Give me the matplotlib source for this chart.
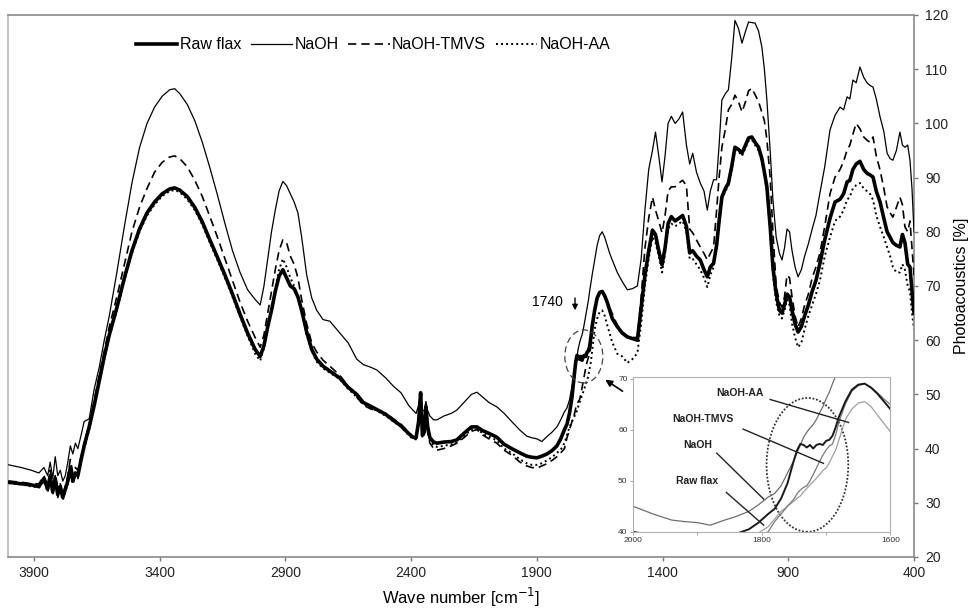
import numpy as np
import matplotlib
matplotlib.use("Agg")
import matplotlib.pyplot as plt
from matplotlib.patches import Ellipse

plt.rcParams['font.family'] = ['Liberation Sans', 'DejaVu Sans']

# wave numbers [cm-1] (segments: noisy start, OH band,
# CH band, CO2 region, carbonyl region, fingerprint region)
wn = [4000, 3950, 3910, 3880, 3860, 3845, 3835, 3825, 3815, 3805,
      3795, 3785, 3775, 3765, 3755, 3745, 3735, 3725, 3712, 3700,
      3680, 3660, 3640, 3620, 3600, 3570, 3540, 3510, 3480, 3450,
      3420, 3390, 3360, 3340, 3320, 3290, 3260, 3230, 3200, 3170,
      3140, 3110, 3080, 3050, 3020, 3000,
      2985, 2970, 2955, 2940, 2925, 2910, 2895, 2880, 2865, 2850,
      2835, 2815, 2795, 2775, 2750, 2723,
      2683, 2650, 2616, 2590, 2560, 2536, 2500, 2470, 2440, 2410,
      2393, 2380, 2370, 2362, 2355, 2348, 2341, 2334, 2325, 2310,
      2297, 2270, 2240, 2218, 2190, 2160, 2138, 2115, 2090, 2059,
      2030, 2000,
      1967, 1940, 1920, 1900, 1880, 1860, 1840, 1820, 1805, 1790,
      1780, 1770, 1760, 1750, 1745, 1740, 1735, 1730, 1725, 1720,
      1715, 1710, 1705, 1700, 1695, 1690, 1685, 1680, 1670, 1660,
      1650, 1640, 1630, 1620, 1610, 1600,
      1580, 1560, 1540, 1520, 1500, 1485, 1470, 1455, 1440, 1428,
      1415, 1402, 1390, 1378, 1365, 1350, 1335, 1320, 1305, 1292,
      1280, 1265, 1250, 1235, 1222, 1210, 1197, 1185, 1175, 1164,
      1150, 1138, 1125, 1112, 1098, 1084, 1070, 1058, 1045, 1032,
      1018, 1005, 995, 985, 972, 961, 948, 935, 925, 915,
      905, 895, 885, 873, 861, 848, 835, 820, 805, 790,
      774, 755, 734, 714, 694, 680, 666, 655, 643, 630,
      615, 600, 587, 575, 563, 550, 535, 520, 507, 495,
      484, 470, 456, 446, 436, 425, 416, 408, 400]

raw_flax = [33.8, 33.5, 33.3, 33.0, 34.5, 32.5, 35.0, 32.0, 34.5, 31.5,
            33.0, 31.0, 32.5, 34.0, 36.5, 34.0, 35.5, 35.0, 38.0, 40.5,
            44.0, 48.0, 52.5, 57.0, 61.0, 66.0, 71.5, 76.5, 80.5, 83.5,
            85.5, 87.0, 87.9, 88.1, 87.7, 86.5, 84.5, 81.8, 78.5, 75.3,
            72.0, 68.5, 64.8, 61.3, 58.3, 57.0,
            59.0, 62.5, 65.5, 69.0, 71.8, 73.0, 71.5, 70.0, 69.5, 68.0,
            65.5, 61.5, 58.3, 56.5, 55.2, 54.3,
            53.0, 51.3, 50.0, 48.5, 47.8, 47.2, 46.3, 45.2, 44.2, 42.8,
            42.1, 42.0, 45.0, 50.3, 42.5, 43.0, 47.7, 44.0, 42.0, 41.2,
            41.0, 41.2, 41.3, 41.6, 42.8, 44.0, 44.0, 43.3, 42.8, 42.1,
            40.8, 40.0,
            39.2, 38.6, 38.4, 38.3, 38.6, 39.0, 39.6, 40.5, 41.8, 43.5,
            44.5, 46.5, 49.5, 54.0, 56.0, 57.2, 57.0, 56.5, 57.0, 56.3,
            57.0, 57.2, 57.0, 57.8, 58.0, 58.8, 60.5, 62.5, 65.5, 67.8,
            68.8, 69.0, 68.2, 67.0, 65.5, 64.0,
            62.5, 61.3, 60.6, 60.3, 60.0, 66.0, 72.0, 76.5, 80.3, 79.5,
            76.5, 73.9, 77.0, 81.5, 82.8, 82.0, 82.5, 83.0, 81.0, 76.1,
            76.5, 75.5, 74.8, 73.0, 71.7, 73.5, 74.2, 77.5, 82.0, 86.4,
            88.0, 89.0, 92.0, 95.6, 95.2, 94.5, 96.0, 97.3, 97.5, 96.5,
            95.6, 93.5, 91.0, 88.3, 81.0, 73.5, 68.5, 65.5, 65.0, 66.5,
            68.5, 68.0, 65.5, 63.0, 61.5, 62.5, 64.5, 66.5, 69.0, 71.0,
            74.2, 78.5, 82.5, 85.5, 86.0, 87.0, 89.2, 89.5, 91.5, 92.5,
            93.0, 91.5, 90.8, 90.5, 90.1, 87.5, 85.5, 82.5, 80.0, 79.0,
            78.0, 77.5, 77.2, 79.5, 78.0, 74.0, 73.5, 69.0, 65.0]

naoh = [37.0, 36.5, 36.0, 35.5, 36.5, 35.0, 37.5, 34.5, 38.5, 35.0,
        36.0, 34.0, 35.0, 37.5, 40.5, 39.0, 41.0, 40.0, 42.5, 45.0,
        45.5, 51.0, 55.0, 60.0, 64.5, 72.5, 81.0, 89.0, 95.5, 100.0,
        103.0, 105.0, 106.2, 106.4, 105.5, 103.5, 100.5, 96.5, 91.8, 86.8,
        81.5, 76.5, 72.5, 69.3, 67.5, 66.5,
        70.0, 75.0, 80.0, 84.0, 87.5, 89.3, 88.5, 87.0, 85.5, 83.5,
        79.0, 72.0, 67.8, 65.5, 63.8, 63.5,
        61.3, 59.5, 56.5, 55.5, 55.0, 54.5, 53.0, 51.5, 50.3, 48.0,
        47.1, 46.5, 48.0, 50.3, 47.0, 47.0, 48.7, 47.0, 46.0, 45.3,
        45.3, 46.0, 46.5, 47.1, 48.5, 50.0, 50.4, 49.5, 48.5, 47.7,
        46.5, 45.0,
        43.4, 42.3, 42.0, 41.8, 41.3, 42.2, 43.0, 44.0, 45.3, 46.8,
        47.5, 49.0, 51.5, 54.0, 55.5, 57.0, 58.5, 59.5, 60.3, 61.0,
        62.0, 63.3, 64.5, 66.0, 67.3, 69.0, 70.5, 72.0, 74.8, 77.5,
        79.3, 80.0, 79.0, 77.5, 76.0, 74.8,
        72.5, 70.8, 69.3, 69.5, 70.0, 75.0, 84.0, 91.5, 95.0, 98.4,
        94.0, 89.2, 94.0, 100.0, 101.3, 100.0, 100.8, 102.1, 96.0, 92.5,
        94.5, 91.0, 89.0, 87.5, 84.0, 87.5, 89.6, 89.6, 96.0, 104.3,
        105.5, 106.2, 112.0, 119.0, 117.5, 114.8, 117.0, 118.7, 118.6, 118.5,
        117.0, 114.1, 110.0, 104.3, 95.0, 85.9, 79.0, 76.0, 74.8, 77.0,
        80.5, 80.0, 76.5, 73.5, 71.7, 73.0, 75.5, 77.8, 80.5, 83.0,
        87.2, 92.0, 98.8, 101.5, 103.0, 102.5, 104.9, 104.5, 108.0, 107.5,
        110.4, 108.5, 107.5, 107.0, 106.7, 104.5, 101.2, 98.5, 94.5, 93.5,
        93.2, 95.0, 98.4, 96.0, 95.6, 96.0, 93.2, 88.0, 80.0]

naoh_tmvs = [34.0, 33.8, 33.5, 33.5, 35.0, 33.0, 36.0, 32.5, 35.0, 32.5,
             33.5, 31.5, 33.0, 35.0, 38.0, 35.5, 36.5, 36.0, 38.5, 41.0,
             44.5, 49.0, 53.5, 58.0, 62.5, 68.0, 74.0, 80.0, 84.5, 88.0,
             91.0, 92.8, 93.8, 94.0, 93.5, 92.0, 89.5, 86.5, 82.8, 79.0,
             75.0, 71.0, 67.0, 63.5, 60.5, 58.7,
             61.0, 65.0, 69.0, 73.0, 76.5, 78.5, 78.0, 75.5, 74.0, 71.5,
             67.5, 63.0, 59.5, 57.8, 56.3, 55.2,
             53.5, 51.5, 49.5, 48.0, 47.3, 47.0, 46.5, 45.5, 44.5, 43.0,
             42.3, 42.0, 44.5, 49.5, 42.0, 42.5, 47.0, 43.0, 41.0, 40.0,
             39.7, 40.0, 40.5, 41.0, 42.0, 43.2, 43.5, 42.5, 41.8, 41.0,
             39.7, 38.8,
             37.5, 36.8, 36.5, 36.4, 36.8, 37.2, 37.8, 38.5, 39.2, 40.0,
             42.0, 43.5, 45.0, 46.4, 47.5, 48.2, 48.7, 49.0, 50.0, 51.2,
             52.5, 53.8, 55.0, 56.0, 56.8, 57.2, 59.0, 61.5, 65.0, 67.5,
             68.6, 69.0, 68.3, 67.2, 66.0, 64.9,
             62.8, 61.5, 60.8, 60.5, 60.5, 68.0, 77.0, 82.5, 86.4, 84.0,
             82.0, 79.8, 83.0, 87.5, 88.3, 88.3, 89.0, 89.5, 88.5, 80.5,
             79.8, 78.5, 77.2, 76.0, 74.8, 76.0, 77.2, 84.0, 90.0, 95.6,
             99.0, 102.5, 103.5, 105.2, 104.0, 102.1, 104.0, 106.0, 106.5, 105.3,
             104.0, 102.0, 100.5, 97.0, 90.0, 80.0, 70.0, 67.0, 66.1, 68.0,
             72.0, 71.5, 68.0, 64.5, 62.4, 64.0, 66.5, 68.5, 71.5, 73.5,
             76.1, 81.0, 87.0, 90.1, 91.5, 93.0, 95.1, 96.0, 98.0, 100.0,
             99.0, 97.5, 96.9, 96.5, 97.5, 94.0, 91.4, 88.0, 84.6, 83.5,
             82.7, 84.5, 86.4, 85.0, 80.9, 80.0, 82.0, 77.0, 72.0]

naoh_aa = [33.6, 33.4, 33.0, 32.8, 34.0, 32.0, 34.5, 31.5, 35.0, 31.0,
           32.5, 30.5, 32.0, 33.5, 35.5, 33.5, 35.0, 34.5, 37.5, 40.0,
           43.5, 47.5, 52.0, 56.5, 60.5, 65.5, 71.0, 76.0, 80.0, 83.0,
           85.0, 86.6, 87.5, 87.7, 87.3, 86.0, 84.0, 81.3, 78.0, 74.8,
           71.5, 68.0, 64.3, 60.8, 57.5, 56.2,
           58.5, 62.0, 65.5, 69.5, 73.0, 75.0, 73.5, 71.5, 70.0, 68.0,
           65.0, 61.0, 58.0, 56.0, 54.8, 54.0,
           52.8, 51.0, 49.5, 48.2, 47.5, 47.0, 46.0, 45.0, 44.0, 42.5,
           41.8, 41.7, 44.5, 49.8, 42.0, 42.6, 47.2, 43.5, 41.5, 40.6,
           40.3, 40.5, 40.8, 41.2, 42.3, 43.5, 43.6, 42.8, 42.2, 41.5,
           40.0, 39.2,
           38.0, 37.3, 37.0, 37.0, 37.3, 37.8, 38.4, 39.2, 39.8, 41.0,
           42.5, 44.0, 45.0, 46.0, 46.6, 47.0, 47.8, 48.5, 49.2, 49.8,
           50.5, 51.2, 52.0, 52.5, 53.5, 54.8, 56.0, 58.0, 62.0, 64.0,
           65.2, 65.5, 64.5, 62.8, 61.2, 59.6,
           57.5, 57.0, 55.8, 56.5, 57.6, 63.0, 70.0, 75.0, 79.0, 78.0,
           75.5, 72.5, 76.0, 80.5, 81.5, 81.0, 81.5, 82.0, 80.0, 75.0,
           75.0, 74.0, 73.0, 71.5, 69.8, 72.0, 73.5, 77.0, 81.5, 86.0,
           87.5, 88.5, 91.5, 95.0, 94.8, 94.0, 95.5, 96.8, 97.0, 96.0,
           95.0, 93.0, 90.5, 87.5, 80.0, 72.0, 67.0, 64.5, 64.0, 65.5,
           67.5, 66.5, 63.0, 60.5, 58.7, 59.5, 62.0, 64.5, 66.5, 68.5,
           71.0, 75.5, 79.0, 82.0, 82.8, 84.0, 85.9, 86.5, 88.0, 88.6,
           89.0, 88.0, 87.5, 87.0, 85.9, 83.0, 80.9, 79.0, 77.2, 75.5,
           73.5, 72.5, 72.5, 74.0, 73.0, 70.0, 69.0, 65.0, 62.0]

xticks = [3900, 3400, 2900, 2400, 1900, 1400, 900, 400]
yticks = [20, 30, 40, 50, 60, 70, 80, 90, 100, 110, 120]
inset_labels = ['NaOH-AA', 'NaOH-TMVS', 'NaOH', 'Raw flax']

for s in (raw_flax, naoh, naoh_tmvs, naoh_aa):
    assert len(s) == len(wn), len(s)

fig = plt.figure(figsize=(9.71, 6.12), dpi=100)
ax = fig.add_axes([0.0082, 0.0899, 0.9331, 0.8856])

ax.plot(wn, naoh_aa, color='black', lw=1.4, ls=(0, (1, 1.6)), label='NaOH-AA', zorder=2)
ax.plot(wn, naoh_tmvs, color='black', lw=1.2, ls=(0, (5, 3)), label='NaOH-TMVS', zorder=3)
ax.plot(wn, naoh, color='black', lw=0.9, label='NaOH', zorder=4)
ax.plot(wn, raw_flax, color='black', lw=2.6, label='Raw flax', zorder=5)

ax.set_xlim(4003, 400)
ax.set_ylim(20, 120)
ax.set_xticks(xticks)
ax.set_yticks(yticks)
ax.yaxis.tick_right()
ax.yaxis.set_label_position('right')
ax.tick_params(direction='out', length=3, width=1, color='#777777',
               labelsize=10, labelcolor='#222222')
ax.tick_params(axis='y', pad=5)
for sp in ax.spines.values():
    sp.set_color('#8a8a8a')
    sp.set_linewidth(1.2)
ax.spines['left'].set_color('#b5b5b5')

ax.set_xlabel('Wave number [cm$^{-1}$]', fontsize=12, labelpad=4)
ax.set_ylabel('Photoacoustics [%]', fontsize=11.5, rotation=90,
              va='center', ha='center')
ax.yaxis.set_label_coords(1.052, 0.5)

# legend in the requested order
h, l = ax.get_legend_handles_labels()
order = [3, 2, 1, 0]
ax.legend([h[i] for i in order], [l[i] for i in order], loc='center',
          bbox_to_anchor=(0.403, 0.945), ncol=4, frameon=False,
          fontsize=11.5, handlelength=2.6, handletextpad=0.15,
          columnspacing=0.6)

# 1740 marker, circle and pointer to the inset
ax.text(1858, 67.0, '1740', fontsize=10, ha='center', va='center')
ax.annotate('', xy=(1748, 65.0), xytext=(1748, 68.3),
            arrowprops=dict(arrowstyle='-|>', color='black', lw=1.0,
                            mutation_scale=8))
ax.add_patch(Ellipse((1713, 57.0), 151, 9.8, fill=False, ls=(0, (5, 3)),
                     lw=0.9, color='#444444', zorder=6))
ax.annotate('', xy=(1637, 53.0), xytext=(1550, 50.3),
            arrowprops=dict(arrowstyle='-|>', color='black', lw=1.2,
                            mutation_scale=10))

# inset zoom of the carbonyl region
ins = fig.add_axes([0.652, 0.131, 0.265, 0.253])
ins.set_facecolor('white')
ins.plot(wn, naoh, color='#6f6f6f', lw=0.9)
ins.plot(wn, naoh_aa, color='#a0a0a0', lw=0.9)
ins.plot(wn, naoh_tmvs, color='#7a7a7a', lw=0.9)
ins.plot(wn, raw_flax, color='#1a1a1a', lw=1.4)
ins.set_xlim(2000, 1600)
ins.set_ylim(40, 70.3)
ins.set_xticks([2000, 1800, 1600])
ins.set_xticks([1900, 1700], minor=True)
ins.set_yticks([40, 50, 60, 70])
ins.tick_params(labelsize=6, length=2, width=0.6, color='#999999',
                labelcolor='#333333', pad=2)
ins.tick_params(which='minor', length=2, width=0.6, color='#999999')
for sp in ins.spines.values():
    sp.set_color('#b0b0b0')
    sp.set_linewidth(0.8)

label_pos = [(1834, 67.1), (1891, 62.0), (1899, 57.0), (1901, 50.0)]
leaders = [((1787, 65.9), (1665, 61.4)),
           ((1829, 60.1), (1704, 53.4)),
           ((1870, 55.4), (1797, 46.4)),
           ((1855, 47.7), (1797, 41.3))]
for name, (tx, ty), (p0, p1) in zip(inset_labels, label_pos, leaders):
    ins.text(tx, ty, name, fontsize=7.5, fontweight='bold', ha='center',
             va='center', color='#222222')
    ins.plot([p0[0], p1[0]], [p0[1], p1[1]], color='#222222', lw=1.0)
ins.add_patch(Ellipse((1729, 53.1), 127, 26.2, fill=False,
                      ls=(0, (1, 1)), lw=1.3, color='#333333'))

fig.savefig('out.png', dpi=100)
